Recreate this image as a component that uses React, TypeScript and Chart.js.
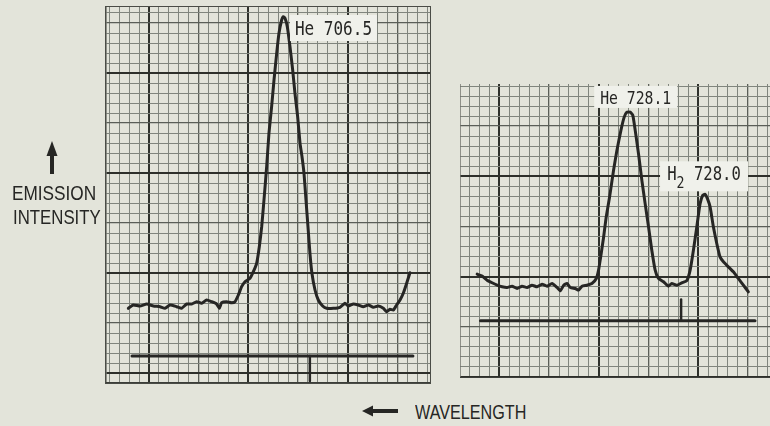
import React, { useEffect, useRef } from "react";
import { Chart, registerables } from "chart.js";

Chart.register(...registerables);

// ---------- data (chart-paper grid units: 1 = one minor division) ----------
const leftTraceX = [7.92, 8.42, 9.09, 9.77, 10.44, 11.11, 11.61, 12.11, 12.79, 13.29, 13.79, 14.3, 14.8, 15.3, 15.81, 16.31, 16.81, 17.08, 17.32, 17.82, 18.33, 18.66, 19.0, 19.33, 19.67, 20.17, 20.51, 20.84, 21.11, 21.35, 21.58, 21.85, 22.08, 22.35, 22.59, 22.86, 23.09, 23.36, 23.53, 23.7, 23.93, 24.2, 24.47, 24.7, 24.97, 25.21, 25.41, 25.61, 25.81, 26.01, 26.21, 26.41, 26.72, 27.05, 27.49, 27.89, 28.56, 29.23, 29.74, 30.07, 30.58, 31.08, 31.58, 32.09, 32.59, 33.09, 33.6, 33.93, 34.27, 34.61, 34.94, 35.28, 35.61, 35.95, 36.28];
const leftTraceY = [6.47, 6.8, 6.7, 6.9, 6.7, 6.63, 6.47, 6.8, 6.63, 6.47, 6.9, 6.9, 7.13, 6.97, 7.3, 7.13, 6.9, 6.47, 7.03, 7.13, 7.03, 7.13, 7.8, 8.63, 9.13, 9.47, 10.13, 10.97, 12.63, 14.63, 17.3, 20.63, 23.97, 26.63, 29.3, 31.97, 33.97, 35.3, 35.63, 35.47, 34.63, 32.63, 30.3, 27.97, 25.63, 22.97, 21.63, 19.97, 17.3, 14.63, 11.97, 9.97, 8.3, 7.3, 6.7, 6.47, 6.47, 6.57, 6.97, 6.7, 6.9, 6.8, 6.63, 6.8, 6.57, 6.7, 6.47, 6.13, 6.37, 6.3, 6.8, 7.3, 7.97, 8.97, 10.03];
const leftBaseX = [8.29, 36.58];
const leftBaseY = [1.7, 1.7];
const leftMarkX = [26.2, 26.2];
const leftMarkY = [1.7, -0.8];

const rightTraceX = [7.76, 8.26, 8.76, 9.26, 9.77, 10.27, 10.77, 11.27, 11.78, 12.28, 12.78, 13.28, 13.79, 14.29, 14.79, 15.29, 15.8, 16.13, 16.47, 16.8, 17.14, 17.64, 17.97, 18.31, 18.81, 19.31, 19.75, 19.98, 20.22, 20.49, 20.75, 21.09, 21.49, 21.83, 22.23, 22.56, 22.83, 23.17, 23.43, 23.67, 24.0, 24.34, 24.67, 25.01, 25.34, 25.68, 26.01, 26.52, 27.02, 27.35, 27.86, 28.36, 28.86, 29.2, 29.53, 29.87, 30.2, 30.47, 30.7, 30.94, 31.21, 31.54, 31.88, 32.21, 32.55, 33.05, 33.55, 34.05, 34.56, 35.06];
const rightTraceY = [10.25, 10.05, 9.65, 9.39, 9.15, 8.99, 8.92, 9.05, 8.82, 9.05, 8.92, 9.15, 8.99, 9.25, 9.05, 9.32, 8.92, 8.59, 9.15, 9.32, 8.92, 8.82, 8.66, 9.05, 9.15, 9.32, 9.82, 10.65, 12.14, 13.96, 15.95, 17.94, 20.6, 22.59, 24.58, 25.9, 26.4, 26.4, 26.07, 24.58, 22.26, 19.6, 17.28, 14.96, 12.64, 10.65, 9.82, 9.49, 9.05, 9.32, 9.15, 9.39, 9.59, 10.65, 12.64, 14.96, 17.28, 18.11, 18.21, 17.78, 16.95, 14.96, 13.3, 11.97, 11.48, 10.98, 10.48, 9.82, 9.15, 8.49];
const rightBaseX = [8.09, 35.73];
const rightBaseY = [5.6, 5.6];
const rightMarkX = [28.29, 28.29];
const rightMarkY = [5.6, 7.73];

// peak labels: text parts (sub = subscript), anchor in grid units (box centre)
const leftLabelParts = [[{ t: "He 706.5" }]];
const leftLabelX = [28.58];
const leftLabelY = [34.5];
const rightLabelParts = [
  [{ t: "He 728.1" }],
  [{ t: "H" }, { t: "2", sub: true }, { t: " 728.0" }],
];
const rightLabelX = [23.72, 30.6];
const rightLabelY = [27.91, 20.0];

const leftRange = { xMin: 5.67, xMax: 38.3, yMin: -1.0, yMax: 36.6 };
const rightRange = { xMin: 6.03, xMax: 37.24, yMin: -0.1, yMax: 29.2 };

// ---------- styling ----------
const PAPER = "#e3e4da";
const INK = "#262624";

function pts(xs: number[], ys: number[]) {
  return xs.map((x, i) => ({ x, y: ys[i] }));
}

function gridColor(v: number) {
  const r = Math.round(v);
  if (Math.abs(v - r) > 1e-6) return "rgba(0,0,0,0)";
  if (r % 10 === 0) return "#2e302b";
  if (r % 5 === 0) return "#5a5e57";
  return "#80857d";
}
function gridWidth(v: number) {
  const r = Math.round(v);
  if (r % 10 === 0) return 2;
  if (r % 5 === 0) return 1.3;
  return 1;
}

function scaleOpts(min: number, max: number, showBorder: boolean) {
  return {
    type: "linear" as const,
    min,
    max,
    ticks: { display: false, stepSize: 1, includeBounds: false },
    grid: {
      drawTicks: false,
      color: (c: any) => gridColor(c.tick.value),
      lineWidth: (c: any) => gridWidth(c.tick.value),
    },
    border: { display: showBorder, color: "#3c3e39", width: 1.5 },
  };
}

const peakLabelPlugin = {
  id: "peakLabels",
  afterDatasetsDraw(chart: any, _args: any, opts: any) {
    const { ctx } = chart;
    const xs = chart.scales.x;
    const ys = chart.scales.y;
    const items = opts.items || [];
    items.forEach((item: any, i: number) => {
      const cx = xs.getPixelForValue(item.x);
      const cy = ys.getPixelForValue(item.y);
      const w = opts.boxW[i];
      const h = opts.boxH[i];
      const size = opts.fontSize[i];
      ctx.save();
      ctx.fillStyle = opts.boxColor;
      ctx.fillRect(cx - w / 2, cy - h / 2, w, h);
      ctx.fillStyle = INK;
      ctx.textBaseline = "alphabetic";
      const font = (s: number) => `${s}px "DejaVu Sans Mono", monospace`;
      // measure
      let total = 0;
      item.parts.forEach((p: any) => {
        ctx.font = font(p.sub ? size * 0.85 : size);
        total += ctx.measureText(p.t).width;
      });
      const sx = opts.scaleX;
      ctx.translate(cx - (total * sx) / 2, cy + (size * 0.73) / 2 + (opts.dy?.[i] || 0));
      ctx.scale(sx, 1);
      let x = 0;
      item.parts.forEach((p: any) => {
        const s = p.sub ? size * 0.85 : size;
        ctx.font = font(s);
        ctx.fillText(p.t, x, p.sub ? size * 0.42 : 0);
        x += ctx.measureText(p.t).width;
      });
      ctx.restore();
    });
  },
};

function makeConfig(
  trace: { x: number; y: number }[],
  base: { x: number; y: number }[],
  mark: { x: number; y: number }[],
  range: { xMin: number; xMax: number; yMin: number; yMax: number },
  labels: any,
  showBorder: boolean
): any {
  const lineDs = (data: any, width: number, tension: number) => ({
    data,
    borderColor: INK,
    borderWidth: width,
    pointRadius: 0,
    tension,
    fill: false,
    borderCapStyle: "round",
    borderJoinStyle: "round",
  });
  return {
    type: "line",
    data: {
      datasets: [lineDs(trace, 3, 0.15), lineDs(base, 3, 0), lineDs(mark, 2.5, 0)],
    },
    options: {
      animation: false,
      responsive: false,
      maintainAspectRatio: false,
      layout: { padding: 0 },
      events: [],
      scales: {
        x: scaleOpts(range.xMin, range.xMax, showBorder),
        y: scaleOpts(range.yMin, range.yMax, showBorder),
      },
      plugins: {
        legend: { display: false },
        tooltip: { enabled: false },
        title: { display: false },
        peakLabels: labels,
      },
    },
    plugins: [peakLabelPlugin],
  };
}

function Panel(props: {
  left: number;
  top: number;
  width: number;
  height: number;
  config: () => any;
  outline?: boolean;
}) {
  const ref = useRef<HTMLCanvasElement>(null);
  useEffect(() => {
    if (!ref.current) return;
    const chart = new Chart(ref.current, props.config());
    return () => chart.destroy();
  }, []);
  return (
    <canvas
      ref={ref}
      width={props.width}
      height={props.height}
      style={{
        position: "absolute",
        left: props.left,
        top: props.top,
        width: props.width,
        height: props.height,
        outline: props.outline ? "1.5px solid #4a4c46" : "none",
      }}
    />
  );
}

const textStyle: React.CSSProperties = {
  position: "absolute",
  fontFamily: '"Liberation Sans", Arial, sans-serif',
  fontSize: 21,
  lineHeight: "21px",
  color: INK,
  whiteSpace: "nowrap",
};

export default function App() {
  const leftCfg = () =>
    makeConfig(
      pts(leftTraceX, leftTraceY),
      pts(leftBaseX, leftBaseY),
      pts(leftMarkX, leftMarkY),
      leftRange,
      {
        items: leftLabelParts.map((parts, i) => ({ parts, x: leftLabelX[i], y: leftLabelY[i] })),
        boxW: [87],
        boxH: [26],
        fontSize: [20],
        scaleX: 0.8,
        boxColor: "#f0f1eb",
      },
      true
    );
  const rightCfg = () =>
    makeConfig(
      pts(rightTraceX, rightTraceY),
      pts(rightBaseX, rightBaseY),
      pts(rightMarkX, rightMarkY),
      rightRange,
      {
        items: rightLabelParts.map((parts, i) => ({ parts, x: rightLabelX[i], y: rightLabelY[i] })),
        boxW: [83, 88],
        boxH: [22, 30],
        fontSize: [18, 19],
        dy: [0, -3],
        scaleX: 0.82,
        boxColor: "#f0f1eb",
      },
      true
    );

  return (
    <div
      style={{
        position: "absolute",
        left: 0,
        top: 0,
        width: 770,
        height: 426,
        background: PAPER,
        overflow: "hidden",
      }}
    >
      <Panel left={106} top={7} width={324} height={376} config={leftCfg} outline />
      <Panel left={460} top={84} width={310} height={294} config={rightCfg} />

      {/* y-axis caption */}
      <svg style={{ position: "absolute", left: 0, top: 0 }} width={120} height={200}>
        <polygon points="52,141 46.5,156 57.5,156" fill={INK} />
        <rect x={50} y={154} width={4} height={20} fill={INK} />
      </svg>
      <div style={{ ...textStyle, left: 3, top: 182, width: 100, textAlign: "center", transform: "scaleX(0.82)" }}>
        EMISSION
      </div>
      <div style={{ ...textStyle, left: 3, top: 206, width: 100, textAlign: "center", transform: "scaleX(0.8)" }}>
        INTENSITY
      </div>

      {/* x-axis caption */}
      <svg style={{ position: "absolute", left: 350, top: 395 }} width={60} height={30}>
        <polygon points="12,16 23,10.5 23,21.5" fill={INK} />
        <rect x={21} y={14} width={27} height={4} fill={INK} />
      </svg>
      <div style={{ ...textStyle, left: 415, top: 401, transform: "scaleX(0.77)", transformOrigin: "left center" }}>
        WAVELENGTH
      </div>
    </div>
  );
}
